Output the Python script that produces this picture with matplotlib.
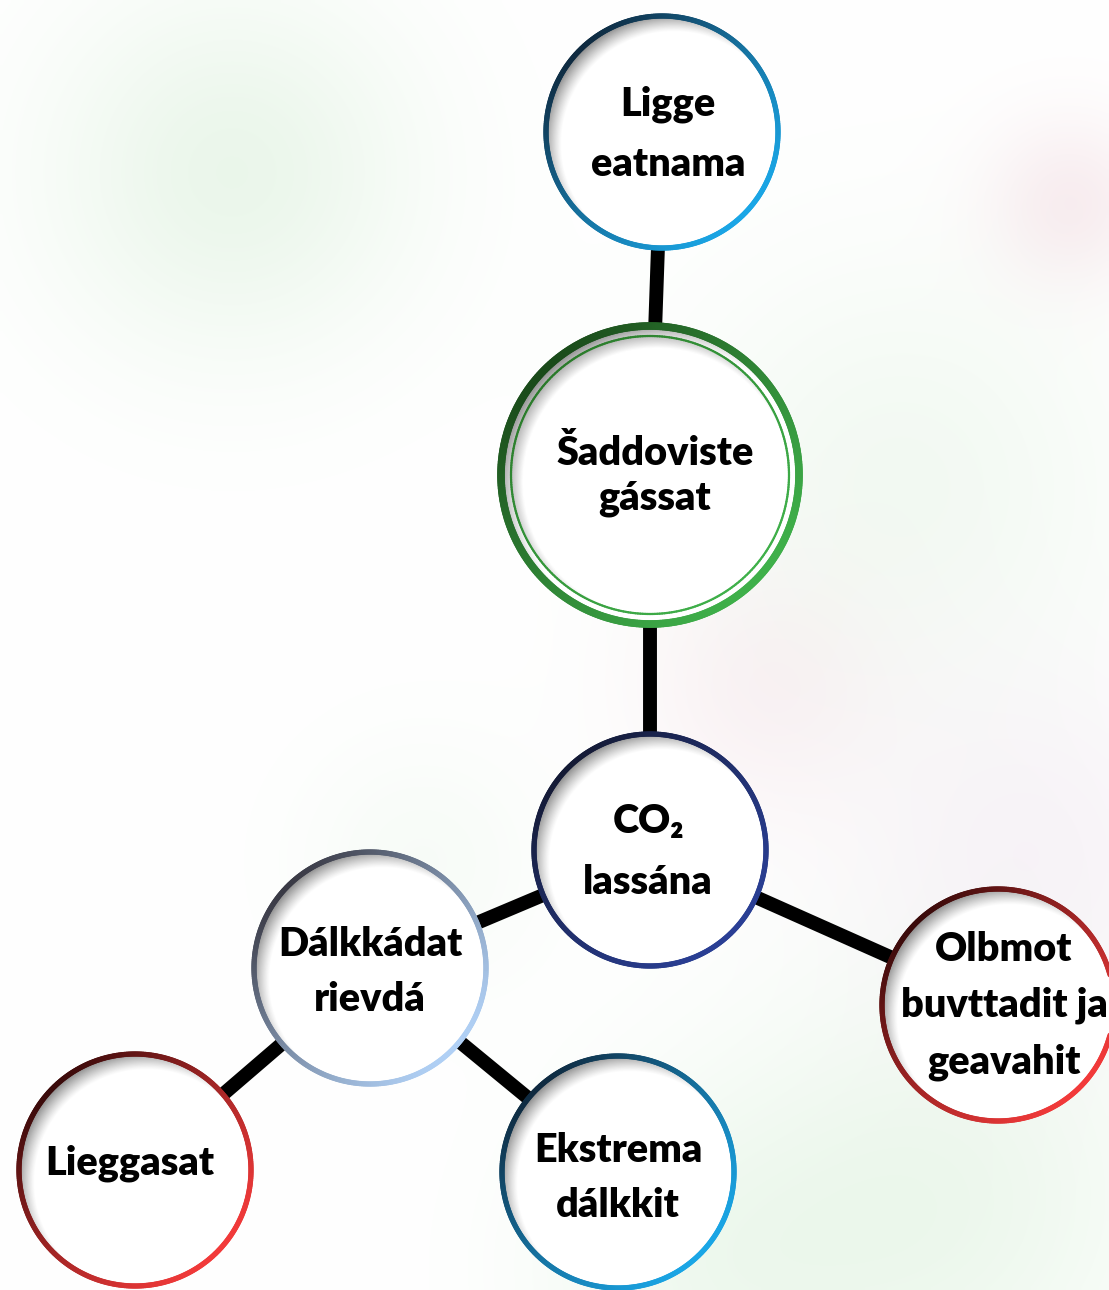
import numpy as np
import matplotlib
matplotlib.use("Agg")
import matplotlib.pyplot as plt
from matplotlib.patches import Circle
from matplotlib.collections import LineCollection
from matplotlib.colors import to_rgb

# ---- data ----
labels = ["Ligge\neatnama", "Šaddoviste\ngássat", "CO₂\nlassána", "Dálkkádat\nrievdá",
          "Olbmot\nbuvttadit ja\ngeavahit", "Lieggasat", "Ekstrema\ndálkkit"]
edges = [(0, 1), (1, 2), (2, 3), (2, 4), (3, 5), (3, 6)]

# ---- layout (pixels) ----
centers = [(662, 132), (650, 475), (650, 850), (370, 968), (998, 1005), (135, 1170), (618, 1172)]
radii = [118, 152, 118, 118, 118, 118, 118]
ring_dark = ["#0f2a40", "#1a4a1a", "#141a35", "#3a3a45", "#3a0a0a", "#3a0a0a", "#0f2a40"]
ring_light = ["#1aa6e6", "#3fb04a", "#2a3f95", "#b0d0f5", "#f23a3a", "#f23a3a", "#1aa6e6"]
text_centers = [(668, 134), (655, 476), (648, 852), (370, 972), (1004, 1006), (130, 1163), (618, 1178)]
linespacings = [1.76, 1.24, 1.82, 1.62, 1.62, 1.2, 1.62]

W, H = 1109, 1290
fig = plt.figure(figsize=(W / 100, H / 100), dpi=100)
ax = fig.add_axes([0, 0, 1, 1])
ax.set_xlim(0, W)
ax.set_ylim(H, 0)
ax.set_aspect("equal")
ax.axis("off")

# faint watercolor background
gy, gx = np.mgrid[0:H:5, 0:W:5]
bg = np.ones(gx.shape + (3,))
blobs = [((230, 170), 130, "#8fd08f", 0.18), ((900, 480), 160, "#a6d8a6", 0.14),
         ((760, 690), 90, "#e6a0b8", 0.12), ((1070, 200), 60, "#d88aa0", 0.15),
         ((930, 1200), 160, "#a6dca6", 0.2), ((1030, 850), 130, "#d8b8d8", 0.16),
         ((420, 860), 90, "#b8e0b8", 0.1), ((700, 1270), 120, "#b0e0b0", 0.15)]
for (bx, by), s, col, a in blobs:
    w = a * np.exp(-((gx - bx) ** 2 + (gy - by) ** 2) / (2 * s ** 2))
    bg = bg * (1 - w[..., None]) + np.array(to_rgb(col)) * w[..., None]
ax.imshow(bg, extent=(0, W, H, 0), zorder=0, interpolation="bilinear")

# connectors
for a, b in edges:
    (x1, y1), (x2, y2) = centers[a], centers[b]
    ax.plot([x1, x2], [y1, y2], color="black", lw=10, solid_capstyle="butt", zorder=1)

def ring(cx, cy, r, c1, c2, lw, z):
    t = np.linspace(0, 2 * np.pi, 361)
    xs = cx + r * np.cos(t)
    ys = cy + r * np.sin(t)
    pts = np.column_stack([xs, ys]).reshape(-1, 1, 2)
    segs = np.concatenate([pts[:-1], pts[1:]], axis=1)
    tm = (t[:-1] + t[1:]) / 2
    p = (np.cos(tm) + np.sin(tm)) / (2 * np.sqrt(2)) + 0.5
    p = np.clip(p, 0, 1) ** 0.8
    c1, c2 = np.array(to_rgb(c1)), np.array(to_rgb(c2))
    cols = c1[None, :] * (1 - p[:, None]) + c2[None, :] * p[:, None]
    lc = LineCollection(segs, colors=cols, linewidths=lw, capstyle="round", zorder=z)
    ax.add_collection(lc)

for i, ((cx, cy), r) in enumerate(zip(centers, radii)):
    circ = Circle((cx, cy), r, facecolor="white", edgecolor="none", zorder=2)
    ax.add_patch(circ)
    n = 200
    yy, xx = np.mgrid[0:n, 0:n]
    px = cx - r + (xx + 0.5) * 2 * r / n
    py = cy - r + (yy + 0.5) * 2 * r / n
    off = 0.1 * r
    d = np.sqrt((px - cx - off) ** 2 + (py - cy - off) ** 2)
    s = np.clip((d - (r - 0.05 * r)) / (0.25 * r), 0, 1) ** 1.2 * 0.9
    img = np.zeros((n, n, 4))
    img[..., :3] = 0.12
    img[..., 3] = s
    im = ax.imshow(img, extent=(cx - r, cx + r, cy + r, cy - r), zorder=3, interpolation="bilinear")
    im.set_clip_path(circ)
    if i == 1:
        ring(cx, cy, r - 3, ring_dark[i], ring_light[i], 5.5, 4)
        ring(cx, cy, r - 13, "#2a7a2a", ring_light[i], 1.6, 4)
        white = Circle((cx, cy), r - 14, facecolor="white", edgecolor="none", zorder=3.5)
        ax.add_patch(white)
        r2 = r - 14
        px = cx - r2 + (xx + 0.5) * 2 * r2 / n
        py = cy - r2 + (yy + 0.5) * 2 * r2 / n
        d = np.sqrt((px - cx - 0.05 * r2) ** 2 + (py - cy - 0.05 * r2) ** 2)
        s = np.clip((d - (r2 - 0.03 * r2)) / (0.12 * r2), 0, 1) * 0.5
        img2 = np.zeros((n, n, 4))
        img2[..., :3] = 0.3
        img2[..., 3] = s
        im2 = ax.imshow(img2, extent=(cx - r2, cx + r2, cy + r2, cy - r2), zorder=3.6, interpolation="bilinear")
        im2.set_clip_path(white)
    else:
        ring(cx, cy, r - 2, ring_dark[i], ring_light[i], 3.8, 4)

for lab, (tx, ty), ls in zip(labels, text_centers, linespacings):
    ax.text(tx, ty, lab, ha="center", va="center", ma="center", fontsize=28.5, fontweight="heavy",
            family=["Lato", "DejaVu Sans"], linespacing=ls, color="black", zorder=6)

fig.savefig("out.png", dpi=100)
